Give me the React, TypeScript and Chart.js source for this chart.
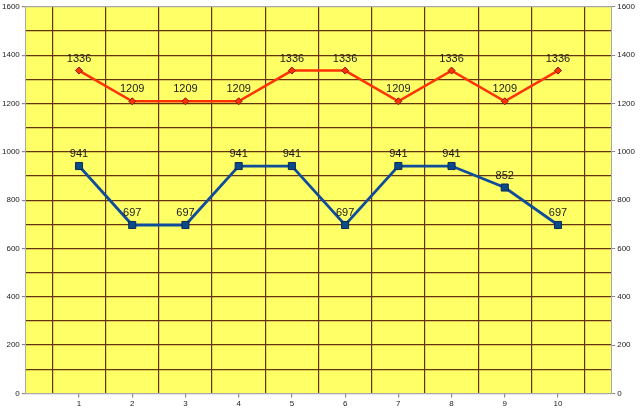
import React, { useEffect, useRef } from "react";
import { Chart, registerables } from "chart.js";

Chart.register(...registerables);

const categories = ["1", "2", "3", "4", "5", "6", "7", "8", "9", "10"];
const redSeries = [1336, 1209, 1209, 1209, 1336, 1336, 1209, 1336, 1209, 1336];
const blueSeries = [941, 697, 697, 941, 941, 697, 941, 941, 852, 697];
const yMin = 0;
const yMax = 1600;
const yGridStep = 100;
const yLabelStep = 200;
const xMin = 0;
const xMax = 11;

const GRID = "#663311";
const BORDER = "#a8a8a8";
const TICKMARK = "#8a8a8a";
const FONT = "'Liberation Sans', Arial, sans-serif";

const bgPlugin = {
  id: "bgPlugin",
  beforeDraw(chart: any) {
    const { ctx, chartArea } = chart;
    ctx.save();
    ctx.fillStyle = "#ffffff";
    ctx.fillRect(0, 0, chart.width, chart.height);
    ctx.fillStyle = "#ffff66";
    ctx.fillRect(chartArea.left, chartArea.top, chartArea.right - chartArea.left, chartArea.bottom - chartArea.top);
    ctx.restore();
  },
};

const labelPlugin = {
  id: "valueLabels",
  afterDatasetsDraw(chart: any) {
    const { ctx } = chart;
    ctx.save();
    ctx.font = `11px ${FONT}`;
    ctx.fillStyle = "#1a1a1a";
    ctx.textAlign = "center";
    ctx.textBaseline = "middle";
    chart.data.datasets.forEach((ds: any, i: number) => {
      const meta = chart.getDatasetMeta(i);
      meta.data.forEach((pt: any, j: number) => {
        ctx.fillText(String(ds.data[j].y), pt.x, pt.y - 12);
      });
    });
    ctx.restore();
  },
};

export default function App() {
  const ref = useRef<HTMLCanvasElement | null>(null);

  useEffect(() => {
    document.body.style.margin = "0";
    if (!ref.current) return;
    const xTicks: number[] = [];
    for (let v = xMin; v <= xMax + 1e-9; v += 0.5) xTicks.push(v);
    const isCat = (v: number) => Number.isInteger(v) && v >= 1 && v <= categories.length;

    const yTickColor = (ctx: any) =>
      ctx.tick && ctx.tick.value % yLabelStep === 0 ? TICKMARK : "transparent";

    const chart = new Chart(ref.current, {
      type: "line",
      data: {
        datasets: [
          {
            label: "A",
            data: categories.map((c, i) => ({ x: Number(c), y: redSeries[i] })),
            borderColor: "#ff3300",
            backgroundColor: "#ff3300",
            borderWidth: 2.5,
            pointStyle: "rectRot",
            pointRadius: 3.5,
            pointBorderColor: "#8a1a00",
            pointBackgroundColor: "#ff3300",
            pointBorderWidth: 1,
            tension: 0,
          },
          {
            label: "B",
            data: categories.map((c, i) => ({ x: Number(c), y: blueSeries[i] })),
            borderColor: "#0f4c9c",
            backgroundColor: "#0b4a8a",
            borderWidth: 2.8,
            pointStyle: "rect",
            pointRadius: 5,
            pointBorderColor: "#0a2a5a",
            pointBackgroundColor: "#0b4a8a",
            pointBorderWidth: 1,
            tension: 0,
          },
        ],
      },
      options: {
        animation: false,
        responsive: true,
        maintainAspectRatio: false,
        layout: { padding: { top: 2, right: 3, bottom: 1, left: 0 } },
        plugins: { legend: { display: false }, tooltip: { enabled: false } },
        scales: {
          x: {
            type: "linear",
            min: xMin,
            max: xMax,
            afterBuildTicks: (axis: any) => {
              axis.ticks = xTicks.map((v) => ({ value: v }));
            },
            ticks: {
              autoSkip: false,
              maxRotation: 0,
              padding: 2,
              font: { size: 8, family: FONT },
              color: "#222",
              callback: (v: any) => (isCat(Number(v)) ? categories[Number(v) - 1] : ""),
            },
            grid: {
              color: (ctx: any) =>
                ctx.tick && !Number.isInteger(ctx.tick.value) ? GRID : "transparent",
              tickColor: (ctx: any) => (ctx.tick && isCat(ctx.tick.value) ? TICKMARK : "transparent"),
              tickLength: 4,
              lineWidth: 1.2,
            },
            border: { color: BORDER, width: 1 },
          },
          y: {
            position: "left",
            min: yMin,
            max: yMax,
            ticks: {
              stepSize: yGridStep,
              autoSkip: false,
              padding: 2,
              font: { size: 8, family: FONT },
              color: "#222",
              callback: (v: any) => (Number(v) % yLabelStep === 0 ? String(v) : ""),
            },
            grid: {
              color: (ctx: any) =>
                ctx.tick && (ctx.tick.value === yMax || ctx.tick.value === yMin) ? BORDER : GRID,
              tickColor: yTickColor,
              tickLength: 4,
              lineWidth: 1.2,
            },
            border: { color: BORDER, width: 1 },
          },
          y2: {
            position: "right",
            min: yMin,
            max: yMax,
            ticks: {
              stepSize: yGridStep,
              autoSkip: false,
              padding: 2,
              font: { size: 8, family: FONT },
              color: "#222",
              callback: (v: any) => (Number(v) % yLabelStep === 0 ? String(v) : ""),
            },
            grid: {
              drawOnChartArea: false,
              tickColor: yTickColor,
              tickLength: 4,
            },
            border: { color: BORDER, width: 1 },
          },
        },
      },
      plugins: [bgPlugin, labelPlugin],
    });
    return () => chart.destroy();
  }, []);

  return (
    <div style={{ width: 640, height: 412, position: "relative" }}>
      <canvas ref={ref} />
    </div>
  );
}
